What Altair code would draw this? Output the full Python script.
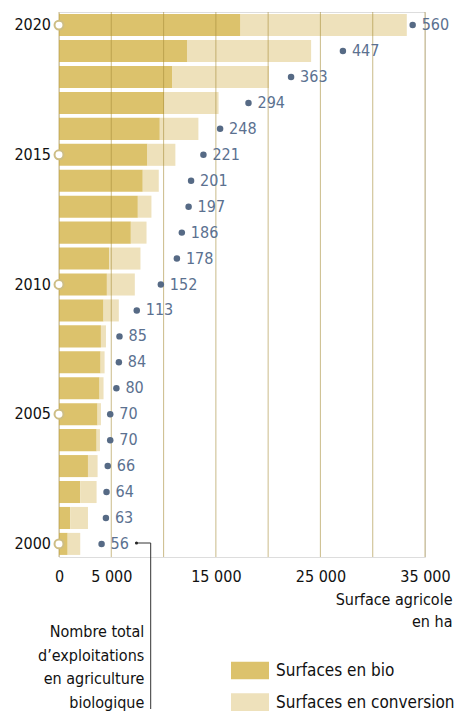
import altair as alt
import pandas as pd

# ---- data -------------------------------------------------------------
years = [2020, 2019, 2018, 2017, 2016, 2015, 2014, 2013, 2012, 2011, 2010,
         2009, 2008, 2007, 2006, 2005, 2004, 2003, 2002, 2001, 2000]
bio_ha = [17360, 12240, 10850, 10080, 9640, 8460, 8010, 7540, 6870, 4800, 4580,
          4260, 4010, 3980, 3880, 3690, 3600, 2770, 2030, 1080, 830]
conv_ha = [15900, 11870, 9220, 5180, 3690, 2670, 1530, 1300, 1500, 2990, 2670,
           1460, 480, 380, 380, 320, 315, 920, 1565, 1690, 1200]
farms = [560, 447, 363, 294, 248, 221, 201, 197, 186, 178, 152,
         113, 85, 84, 80, 70, 70, 66, 64, 63, 56]

series = ["Surfaces en bio", "Surfaces en conversion"]
series_colors = ["#dcc26c", "#eee1bb"]
grid_values = [0, 5000, 10000, 15000, 20000, 25000, 30000, 35000]
tick_values = [0, 5000, 15000, 25000, 35000]
year_marks = [2020, 2015, 2010, 2005, 2000]
x_title = ["Surface agricole", "en ha"]
note_lines = ["Nombre total", "d’exploitations", "en agriculture", "biologique"]

FONT = "DejaVu Sans Condensed, Liberation Sans Narrow, Roboto, sans-serif"
INK = "#111111"
DOT = "#566a85"
DOT_TXT = "#5b7190"

rows = []
for yr, b, c in zip(years, bio_ha, conv_ha):
    rows.append({"year": yr, "type": series[0], "value": b, "k": 0})
    rows.append({"year": yr, "type": series[1], "value": c, "k": 1})
bars_df = pd.DataFrame(rows)
farms_df = pd.DataFrame({"year": years, "farms": farms})
grid_df = pd.DataFrame({"v": grid_values})
marks_df = pd.DataFrame({"year": year_marks})
note_df = pd.DataFrame({"t": ["\n".join(note_lines)]})
leg1_df = pd.DataFrame({"type": [series[0]]})
leg2_df = pd.DataFrame({"type": [series[1]]})

xs = alt.Scale(domain=[0, 35000], nice=False)
ysc = alt.Scale(paddingInner=0.15, paddingOuter=0.08)
color_enc = alt.Color("type:N", scale=alt.Scale(domain=series, range=series_colors), legend=None)

y_enc = alt.Y("year:O", sort="descending", scale=ysc, axis=None)

bars = alt.Chart(bars_df).mark_bar().encode(
    x=alt.X(
        "value:Q", stack="zero", scale=xs,
        axis=alt.Axis(
            values=tick_values, grid=False, ticks=False, domain=False, labelFlush=False,
            labelExpr="datum.value == 0 ? '0' : replace(format(datum.value, ','), ',', ' ')",
            labelFontSize=16, labelColor=INK, labelFont=FONT, labelFontWeight="normal",
            labelPadding=11,
            title=x_title, titleFontSize=16, titleFontWeight="normal", titleFont=FONT,
            titleColor=INK, titleX=393, titleY=34, titleAlign="right",
            titleBaseline="top", titleLineHeight=22, titleAngle=0,
        ),
    ),
    y=y_enc,
    color=color_enc,
    order=alt.Order("k:Q"),
)

rules = alt.Chart(grid_df).mark_rule(color="#a88e3a", opacity=0.55, strokeWidth=1.1).encode(
    x=alt.X("v:Q", scale=xs, axis=None)
)

circles = alt.Chart(marks_df).mark_circle(
    fill="white", stroke="#cdbd84", strokeWidth=2, size=80, opacity=1
).encode(x=alt.value(0), y=y_enc)

year_labels = alt.Chart(marks_df).mark_text(
    align="right", baseline="middle", fontSize=16, font=FONT, color=INK, dx=-8
).encode(x=alt.value(0), y=y_enc, text="year:O")

fs = alt.Scale(domain=[-13, 580], nice=False, zero=False)
dots = alt.Chart(farms_df).mark_circle(size=42, color=DOT, opacity=1).encode(
    x=alt.X("farms:Q", scale=fs, axis=None), y=y_enc
)
dot_labels = alt.Chart(farms_df).mark_text(
    align="left", baseline="middle", dx=9, fontSize=16, font=FONT, color=DOT_TXT
).encode(x=alt.X("farms:Q", scale=fs, axis=None), y=y_enc, text="farms:Q")

# annotation (leader line + note)
lead_dot = alt.Chart(note_df).mark_circle(color="#222", size=10, opacity=1).encode(
    x=alt.value(77.5), y=alt.value(531)
)
lead_h = alt.Chart(note_df).mark_rule(color="#333", strokeWidth=1).encode(
    x=alt.value(77.5), x2=alt.value(91.7), y=alt.value(531)
)
lead_v = alt.Chart(note_df).mark_rule(color="#333", strokeWidth=1).encode(
    x=alt.value(91.7), y=alt.value(531), y2=alt.value(697)
)
note = alt.Chart(note_df).mark_text(
    align="right", baseline="alphabetic", lineBreak="\n", lineHeight=23.7,
    fontSize=16, font=FONT, color=INK
).encode(text="t:N", x=alt.value(85.3), y=alt.value(625))

# manual legend
leg1 = alt.Chart(leg1_df).mark_rect().encode(
    x=alt.value(172), x2=alt.value(210), y=alt.value(649.7), y2=alt.value(667.3), color=color_enc
)
leg2 = alt.Chart(leg2_df).mark_rect().encode(
    x=alt.value(172), x2=alt.value(210), y=alt.value(681.3), y2=alt.value(699.7), color=color_enc
)
leg1t = alt.Chart(leg1_df).mark_text(align="left", baseline="middle", fontSize=17, font=FONT, color=INK).encode(
    text="type:N", x=alt.value(217), y=alt.value(658.5)
)
leg2t = alt.Chart(leg2_df).mark_text(align="left", baseline="middle", fontSize=17, font=FONT, color=INK).encode(
    text="type:N", x=alt.value(217), y=alt.value(690.5)
)

chart = alt.layer(
    bars, rules, dots, dot_labels, circles, year_labels, lead_dot, lead_h, lead_v, note,
    leg1, leg2, leg1t, leg2t
).resolve_scale(x="independent").properties(
    width=366, height=545,
    padding={"left": 51, "top": 4, "right": 29, "bottom": 154},
    autosize=alt.AutoSizeParams(type="none"),
).configure_view(stroke=None).configure(font=FONT)

chart.save("out.html", embed_options={"renderer": "svg", "actions": False})
